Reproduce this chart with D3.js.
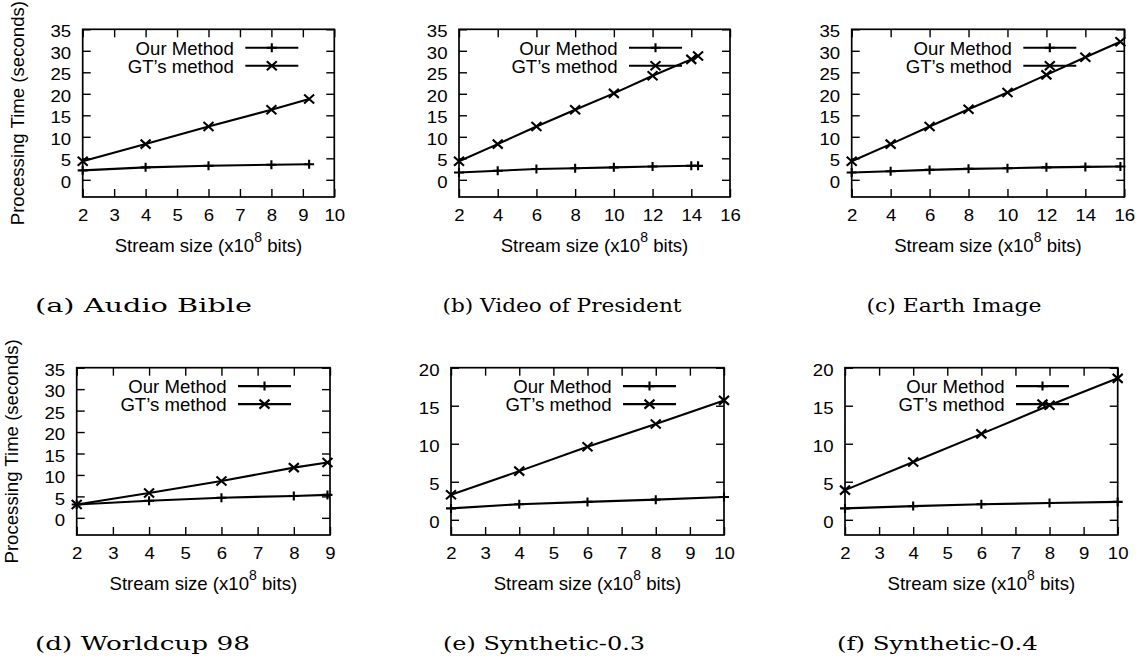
<!DOCTYPE html>
<html>
<head>
<meta charset="utf-8">
<script src="https://cdn.jsdelivr.net/npm/d3@7"></script>
<style>
  body { margin: 0; background: #fff; }
  svg { display: block; }
  text { font-family: "Liberation Sans", Arial, sans-serif; fill: #000; }
  .caption { font-family: "DejaVu Serif", serif; }
</style>
</head>
<body>
<svg id="chart" width="1145" height="657"></svg>
<script>
// stream size (x10^8 bits) and processing time (seconds)
const xAudio = [2, 4, 6, 8, 9.2]
const oursAudio = [2.2, 2.9, 3.25, 3.5, 3.6]
const gtAudio = [4.3, 8.3, 12.4, 16.3, 18.8]

const xVideo = [2, 4, 6, 8, 10, 12, 14, 14.35]
const oursVideo = [1.7, 2.1, 2.5, 2.7, 2.9, 3.1, 3.25, 3.25]
const gtVideo = [4.3, 8.3, 12.4, 16.3, 20.1, 24.2, 28.0, 28.8]

const xEarth = [2, 4, 6, 8, 10, 12, 14, 15.8]
const oursEarth = [1.7, 2.0, 2.3, 2.55, 2.7, 2.9, 3.0, 3.1]
const gtEarth = [4.3, 8.3, 12.4, 16.4, 20.3, 24.4, 28.5, 32.1]

const xWorldcup = [2, 4, 6, 8, 8.93]
const oursWorldcup = [3.1, 4.0, 4.7, 5.1, 5.35]
const gtWorldcup = [3.1, 5.8, 8.6, 11.7, 12.9]

const xSyn3 = [2, 4, 6, 8, 10]
const oursSyn3 = [1.5, 2.05, 2.35, 2.65, 3.0]
const gtSyn3 = [3.3, 6.4, 9.6, 12.6, 15.7]

const xSyn4 = [2, 4, 6, 8, 10]
const oursSyn4 = [1.5, 1.8, 2.05, 2.2, 2.35]
const gtSyn4 = [3.9, 7.6, 11.3, 15.05, 18.6]

const xRange10 = [2, 10]
const xRange16 = [2, 16]
const xRange9 = [2, 9]
const yRange35 = [-4, 35]
const yRange20 = [-2, 20]

const xTicks10 = [2, 3, 4, 5, 6, 7, 8, 9, 10]
const xTicks16 = [2, 4, 6, 8, 10, 12, 14, 16]
const xTicks9 = [2, 3, 4, 5, 6, 7, 8, 9]
const yTicks35 = [0, 5, 10, 15, 20, 25, 30, 35]
const yTicks20 = [0, 5, 10, 15, 20]

const seriesNames = ['Our Method', 'GT\u2019s method']
const captions = ['(a) Audio Bible', '(b) Video of President', '(c) Earth Image',
  '(d) Worldcup 98', '(e) Synthetic-0.3', '(f) Synthetic-0.4']
const yTitle = 'Processing Time (seconds)'

// where each plot frame sits on the page
const frames = [
  { left: 82.7, top: 29.3, right: 334.3, bottom: 197, key: 36, capX: 143.5, capW: 217, yTitle: true },
  { left: 459, top: 29.3, right: 730, bottom: 197, key: 48, capX: 562, capW: 239 },
  { left: 851.7, top: 29.3, right: 1124.3, bottom: 197, key: 48, capX: 954, capW: 175 },
  { left: 76.7, top: 367.7, right: 330, bottom: 535, key: 39, capX: 142.5, capW: 215, yTitle: true },
  { left: 451, top: 367.7, right: 724, bottom: 535, key: 48, capX: 544, capW: 202 },
  { left: 845, top: 367.7, right: 1117.7, bottom: 535, key: 48.7, capX: 937.4, capW: 201 }
]

const panels = [
  { x: xAudio, ours: oursAudio, gt: gtAudio, xDomain: xRange10, xTicks: xTicks10, yDomain: yRange35, yTicks: yTicks35 },
  { x: xVideo, ours: oursVideo, gt: gtVideo, xDomain: xRange16, xTicks: xTicks16, yDomain: yRange35, yTicks: yTicks35 },
  { x: xEarth, ours: oursEarth, gt: gtEarth, xDomain: xRange16, xTicks: xTicks16, yDomain: yRange35, yTicks: yTicks35 },
  { x: xWorldcup, ours: oursWorldcup, gt: gtWorldcup, xDomain: xRange9, xTicks: xTicks9, yDomain: yRange35, yTicks: yTicks35 },
  { x: xSyn3, ours: oursSyn3, gt: gtSyn3, xDomain: xRange10, xTicks: xTicks10, yDomain: yRange20, yTicks: yTicks20 },
  { x: xSyn4, ours: oursSyn4, gt: gtSyn4, xDomain: xRange10, xTicks: xTicks10, yDomain: yRange20, yTicks: yTicks20 }
]

const FONT = 18.6
const SQUISH = 0.9 // tick digits look a bit flattened in the original
const TICK = 8

// gnuplot point types 1 (+) and 2 (x)
const plusMark = {
  draw(ctx) {
    ctx.moveTo(-5, 0); ctx.lineTo(5, 0)
    ctx.moveTo(0, -4.5); ctx.lineTo(0, 4.5)
  }
}
const crossMark = {
  draw(ctx) {
    ctx.moveTo(-5, -4.5); ctx.lineTo(5, 4.5)
    ctx.moveTo(-5, 4.5); ctx.lineTo(5, -4.5)
  }
}
const marks = [plusMark, crossMark]
const intFmt = d3.format('d')

const svg = d3.select('#chart')

const styleAxis = (sel) => {
  sel.attr('font-family', null).attr('font-size', FONT)
  sel.select('.domain').remove()
  sel.selectAll('.tick line').attr('stroke', '#000').attr('stroke-width', 1.4)
}

panels.forEach((p, i) => {
  const f = frames[i]
  const x = d3.scaleLinear().domain(p.xDomain).range([f.left, f.right])
  const y = d3.scaleLinear().domain(p.yDomain).range([f.bottom, f.top])
  const g = svg.append('g')

  // ticks on all four sides, pointing inward
  g.append('g')
    .attr('transform', `translate(0,${f.bottom})`)
    .call(d3.axisBottom(x).tickValues(p.xTicks).tickFormat(intFmt).tickSizeInner(-TICK).tickSizeOuter(0))
    .call(styleAxis)
    .selectAll('text')
    .attr('y', 24.5 / SQUISH).attr('dy', null)
    .attr('transform', `scale(1,${SQUISH})`)

  g.append('g')
    .attr('transform', `translate(${f.left},0)`)
    .call(d3.axisLeft(y).tickValues(p.yTicks).tickFormat(intFmt).tickSizeInner(-TICK).tickSizeOuter(0))
    .call(styleAxis)
    .selectAll('text')
    .attr('x', -11.5).attr('y', 7.6 / SQUISH).attr('dy', null)
    .attr('transform', `scale(1,${SQUISH})`)

  g.append('g')
    .attr('transform', `translate(0,${f.top})`)
    .call(d3.axisTop(x).tickValues(p.xTicks).tickSizeInner(-TICK).tickSizeOuter(0).tickFormat(''))
    .call(styleAxis)

  g.append('g')
    .attr('transform', `translate(${f.right},0)`)
    .call(d3.axisRight(y).tickValues(p.yTicks).tickSizeInner(-TICK).tickSizeOuter(0).tickFormat(''))
    .call(styleAxis)

  g.append('rect')
    .attr('x', f.left).attr('y', f.top)
    .attr('width', f.right - f.left).attr('height', f.bottom - f.top)
    .attr('fill', 'none').attr('stroke', '#000').attr('stroke-width', 1.7)

  const line = d3.line().x(d => x(d[0])).y(d => y(d[1]))

  ;[p.ours, p.gt].forEach((vals, s) => {
    const pts = d3.zip(p.x, vals)
    g.append('path')
      .datum(pts)
      .attr('d', line)
      .attr('fill', 'none').attr('stroke', '#000').attr('stroke-width', 2.1)

    g.selectAll(null)
      .data(pts)
      .join('path')
      .attr('transform', d => `translate(${x(d[0])},${y(d[1])})`)
      .attr('d', d3.symbol(marks[s]))
      .attr('fill', 'none').attr('stroke', '#000').attr('stroke-width', 2.1)

    // key entry
    const ky = f.top + 18.4 + 18 * s
    const kx1 = f.right - f.key
    const kx0 = kx1 - 53
    g.append('line')
      .attr('x1', kx0).attr('x2', kx1).attr('y1', ky).attr('y2', ky)
      .attr('stroke', '#000').attr('stroke-width', 2.1)
    g.append('path')
      .attr('transform', `translate(${(kx0 + kx1) / 2},${ky})`)
      .attr('d', d3.symbol(marks[s]))
      .attr('fill', 'none').attr('stroke', '#000').attr('stroke-width', 2.1)
    g.append('text')
      .attr('x', kx0 - 11.5).attr('y', ky + 7.3)
      .attr('text-anchor', 'end')
      .attr('font-size', FONT)
      .text(seriesNames[s])
  })

  // x axis title with superscript
  const xt = g.append('text')
    .attr('x', (f.left + f.right) / 2).attr('y', f.bottom + 54.5)
    .attr('text-anchor', 'middle')
    .attr('font-size', FONT)
  xt.append('tspan').text('Stream size (x10')
  xt.append('tspan').attr('dy', -9.5).attr('font-size', 14).text('8')
  xt.append('tspan').attr('dy', 9.5).text(' bits)')

  if (f.yTitle) {
    g.append('text')
      .attr('transform', `translate(${f.left - 59},${(f.top + f.bottom) / 2}) rotate(-90)`)
      .attr('text-anchor', 'middle')
      .attr('font-size', FONT)
      .text(yTitle)
  }

  g.append('text')
    .attr('class', 'caption')
    .attr('x', f.capX).attr('y', f.bottom + 114.7)
    .attr('text-anchor', 'middle')
    .attr('font-size', 19)
    .attr('textLength', f.capW)
    .attr('lengthAdjust', 'spacingAndGlyphs')
    .text(captions[i])
})
</script>
</body>
</html>
